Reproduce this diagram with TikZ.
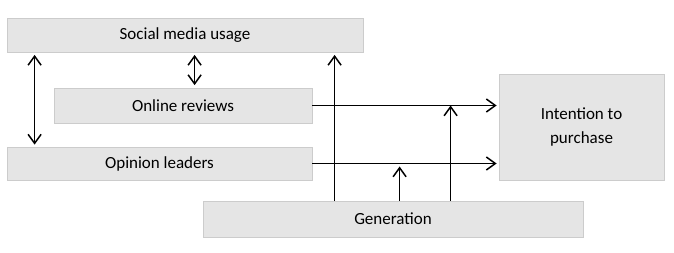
\documentclass[tikz,border=0pt]{standalone}
\usepackage{fontspec}
\setmainfont{Carlito}
\usetikzlibrary{arrows.meta}

\begin{document}
\begin{tikzpicture}[x=1pt, y=-1pt, >={Straight Barb[length=9pt,width=13pt]}, line width=1.5pt,
    factor/.style={draw=black!20, fill=black!10, line width=0.8pt, inner sep=0pt, align=center,
      font=\fontsize{17}{24}\selectfont}]
        \useasboundingbox (0,0) rectangle (674,252);

        % Factors
        \node[factor, minimum width=356pt, minimum height=34pt] (social) at (185,35) {Social media usage};
        \node[factor, minimum width=258pt, minimum height=35pt] (online) at (183,105.5) {Online reviews};
        \node[factor, minimum width=305pt, minimum height=33pt] (opinion) at (159.5,163.5) {Opinion leaders};
        \node[factor, minimum width=380pt, minimum height=36pt] (generation) at (393,219) {Generation};

        % Outcome
        \node[factor, minimum width=165pt, minimum height=106pt] (intention) at (581.5,127) {Intention to\\purchase};

        % Correlations
        \coordinate (c1) at ([xshift=28pt]social.south west);
        \coordinate (c2) at ([xshift=141pt]online.north west);
        \draw[<->, shorten <=2.5pt, shorten >=2pt] (c1) -- (c1 |- opinion.north);
        \draw[<->, shorten <=2.5pt, shorten >=2.5pt] (c2 |- social.south) -- (c2);

        % Direct effects
        \draw[->, shorten >=2pt] (online.east) -- (online.east -| intention.west);
        \draw[->, shorten >=2pt] (opinion.east) -- (opinion.east -| intention.west);

        % Generation
        \coordinate (g1) at ([xshift=132pt]generation.north west);
        \coordinate (g2) at ([xshift=197pt]generation.north west);
        \coordinate (g3) at ([xshift=248pt]generation.north west);
        \draw[->, shorten >=2.5pt] (g1) -- (g1 |- social.south);
        \draw[->, shorten >=3pt] (g2) -- (g2 |- opinion.east);
        \draw[->] (g3) -- (g3 |- online.east);
    \end{tikzpicture}
\end{document}
